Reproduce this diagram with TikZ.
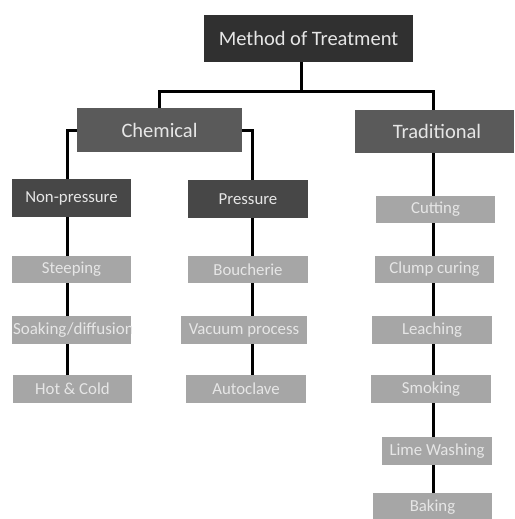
\documentclass[tikz,border=0pt]{standalone}
\usepackage{fontspec}
\setmainfont{Carlito}
\definecolor{topgray}{HTML}{303030}
\definecolor{midgray}{HTML}{5A5A5A}
\definecolor{subgray}{HTML}{474747}
\definecolor{leafgray}{HTML}{A6A6A6}
\definecolor{txtlight}{HTML}{E6E6E6}
\begin{document}
\begin{tikzpicture}[x=1pt,y=-1pt,
  box/.style={rectangle, inner sep=0pt, text=txtlight, anchor=center},
  topbox/.style={box, fill=topgray, font=\fontsize{20.5}{22}\selectfont},
  catbox/.style={box, fill=midgray, font=\fontsize{20.5}{22}\selectfont},
  subbox/.style={box, fill=subgray, font=\fontsize{16.8}{18}\selectfont},
  leaf/.style={box, fill=leafgray, font=\fontsize{16.8}{18}\selectfont},
  conn/.style={draw=black, line width=3pt}]
\useasboundingbox (0,0) rectangle (514,519);

% column positions of the vertical connectors
\coordinate (colL) at (67,0);
\coordinate (colP) at (252,0);
\coordinate (colT) at (433,0);
\coordinate (colTop) at (301,0);
\coordinate (busY) at (0,91);

% root and categories
\node[topbox, minimum width=209pt, minimum height=47pt] (top) at (308.5,38.5) {Method of Treatment};
\node[catbox, minimum width=165pt, minimum height=44pt] (chem) at (159.5,130) {Chemical};
\node[catbox, minimum width=159pt, minimum height=43pt, text width=159pt, align=center] (trad) at (434.5,131.5) {\hspace*{5pt}Traditional};

% chemical sub-categories
\node[subbox, minimum width=119pt, minimum height=38pt] (nonp) at (71.5,198) {Non-pressure};
\node[subbox, minimum width=120pt, minimum height=38pt] (pres) at (248,199) {Pressure};

% non-pressure methods
\node[leaf, minimum width=119pt, minimum height=27pt] (steep) at (71.5,269.5) {Steeping};
\node[leaf, minimum width=119pt, minimum height=28pt] (soak) at (71.5,330) {};
\node[leaf, minimum width=119pt, minimum height=28pt] (hot) at (72.5,389) {Hot \& Cold};
\begin{scope}
  \clip (soak.north west) rectangle (soak.south east);
  \node[anchor=west, inner sep=0pt, text=txtlight, font=\fontsize{17}{18}\selectfont] (soaktxt) at ([xshift=1pt]soak.west) {Soaking/diffusion};
\end{scope}

% pressure methods
\node[leaf, minimum width=120pt, minimum height=27pt] (bouch) at (248,269.5) {Boucherie};
\node[leaf, minimum width=126pt, minimum height=28pt] (vac) at (244,330) {Vacuum process};
\node[leaf, minimum width=120pt, minimum height=28pt] (auto) at (246,389) {Autoclave};

% traditional methods
\node[leaf, minimum width=119pt, minimum height=27pt] (cut) at (435.5,209.5) {Cutting};
\node[leaf, minimum width=119pt, minimum height=27pt] (clump) at (434.5,269.5) {Clump curing};
\node[leaf, minimum width=120pt, minimum height=28pt] (leach) at (432,330) {Leaching};
\node[leaf, minimum width=120pt, minimum height=28pt] (smok) at (431,389) {Smoking};
\node[leaf, minimum width=110pt, minimum height=28pt] (lime) at (437,451) {Lime Washing};
\node[leaf, minimum width=119pt, minimum height=28pt] (bake) at (432.5,507) {Baking};

% root to categories
\draw[conn] (top.south -| colTop) -- (colTop |- busY);
\draw[conn] (chem.north) |- (colTop |- busY) -| (trad.north -| colT);

% chemical branches
\draw[conn] (chem.west) -| (nonp.north -| colL);
\draw[conn] (chem.east) -| (pres.north -| colP);

% non-pressure chain
\draw[conn] (nonp.south -| colL) -- (steep.north -| colL);
\draw[conn] (steep.south -| colL) -- (soak.north -| colL);
\draw[conn] (soak.south -| colL) -- (hot.north -| colL);

% pressure chain
\draw[conn] (pres.south -| colP) -- (bouch.north -| colP);
\draw[conn] (bouch.south -| colP) -- (vac.north -| colP);
\draw[conn] (vac.south -| colP) -- (auto.north -| colP);

% traditional chain
\draw[conn] (trad.south -| colT) -- (cut.north -| colT);
\draw[conn] (cut.south -| colT) -- (clump.north -| colT);
\draw[conn] (clump.south -| colT) -- (leach.north -| colT);
\draw[conn] (leach.south -| colT) -- (smok.north -| colT);
\draw[conn] (smok.south -| colT) -- (lime.north -| colT);
\draw[conn] (lime.south -| colT) -- (bake.north -| colT);
\end{tikzpicture}
\end{document}
